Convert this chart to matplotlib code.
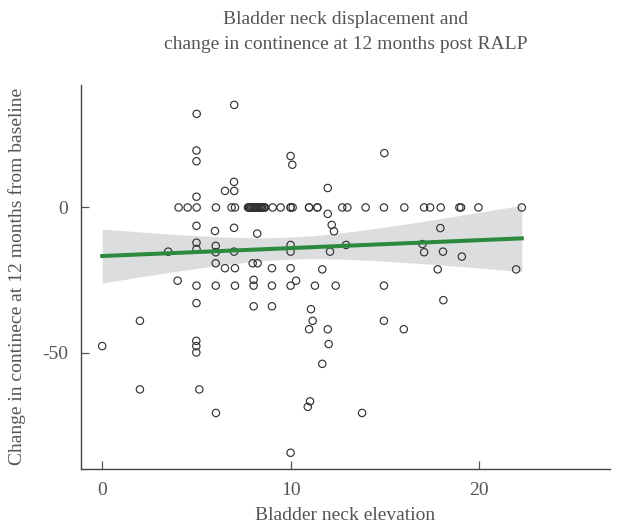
import numpy as np
import matplotlib
matplotlib.use('Agg')
import matplotlib.pyplot as plt

# bladder neck elevation (x) of patients with no change (y = 0);
# the packed cluster near x = 8 holds several overlapping circles
zero_x = [4.05, 4.53, 5.01, 6.03, 6.86, 7.04, 7.73, 7.84, 7.97, 8.10, 8.21, 8.34,
          8.47, 8.63, 9.04, 9.46, 9.99, 10.10, 10.97, 11.41, 12.73, 13.0, 13.97,
          14.94, 16.02, 17.07, 17.39, 17.95, 18.94, 19.03, 19.95, 22.25,
          7.78, 7.9, 8.03, 8.15, 8.27, 8.4, 8.55, 7.8, 8.0, 8.2, 8.4, 8.6,
          9.99, 10.97, 11.41]
# remaining points: bladder neck elevation / change in continence
other_x = [5.01, 7.0, 5.0, 5.0, 6.99, 6.51, 7.0, 5.0, 5.0, 5.98, 6.99, 8.22,
           9.99, 10.08, 14.96, 11.96, 11.96, 12.17, 12.29, 17.93,
           5.0, 5.0, 3.5, 6.02, 6.02, 6.99, 6.02, 6.51, 7.04, 7.98, 8.24, 9.0,
           4.0, 5.0, 6.02, 7.04, 8.03, 8.03, 9.0, 5.0, 8.03, 9.0, 2.0, 0.0,
           4.99, 4.99, 4.99, 2.0, 5.15, 6.03,
           9.99, 9.99, 12.08, 12.93, 16.98, 17.07, 18.07, 19.07, 9.99, 11.67,
           17.79, 21.95, 9.99, 10.28, 11.28, 12.38, 14.94, 11.07, 11.16, 10.97,
           11.96, 12.01, 11.67, 14.94, 15.99, 18.09, 11.02, 10.9, 13.78, 9.99]
other_y = [32.2, 35.3, 19.6, 15.9, 8.8, 5.7, 5.7, 3.7, -6.3, -8.1, -7.0, -9.0,
           17.7, 14.7, 18.7, 6.7, -2.2, -6.0, -8.2, -7.1,
           -12.1, -14.3, -15.2, -13.2, -15.4, -15.2, -19.2, -20.9, -20.9, -19.2,
           -19.2, -20.9, -25.2, -26.9, -26.9, -26.9, -24.9, -26.9, -26.9, -32.9,
           -34.0, -34.0, -39.0, -47.7, -45.9, -47.7, -49.9, -62.6, -62.6, -70.7,
           -12.9, -15.2, -15.2, -12.9, -12.6, -15.4, -15.2, -16.9, -20.9, -21.3,
           -21.3, -21.3, -26.9, -25.2, -26.9, -26.9, -26.9, -35.0, -39.0, -41.9,
           -41.9, -47.0, -53.8, -39.0, -41.9, -31.9, -66.7, -68.6, -70.7, -84.4]

x = np.array(zero_x + other_x)
y = np.array([0.0] * len(zero_x) + other_y)

# linear fit with 95% confidence band
n = len(x)
b, a = np.polyfit(x, y, 1)
xs = np.linspace(x.min(), x.max(), 100)
ys = a + b * xs
resid = y - (a + b * x)
s = np.sqrt(np.sum(resid ** 2) / (n - 2))
se = s * np.sqrt(1.0 / n + (xs - x.mean()) ** 2 / np.sum((x - x.mean()) ** 2))
t = 1.98

plt.rcParams['font.family'] = 'Liberation Serif'
txt = '#555555'

fig = plt.figure(figsize=(6.27, 5.30), dpi=100)
ax = fig.add_axes([0.129, 0.115, 0.844, 0.725])

ax.fill_between(xs, ys - t * se, ys + t * se, color='#dcddde', lw=0, zorder=1)
ax.scatter(x, y, s=28, facecolors='none', edgecolors='#333333', linewidths=0.85, zorder=2)
ax.plot(xs, ys, color='#2b8a3e', lw=2.9, zorder=3)

ax.set_xlim(-1.13, 26.93)
ax.set_ylim(-90.0, 42.2)
ax.set_xticks([0, 10, 20])
ax.set_yticks([0, -50])
ax.set_yticklabels(['0', '-50'])

for sp in ['top', 'right']:
    ax.spines[sp].set_visible(False)
for sp in ['left', 'bottom']:
    ax.spines[sp].set_color('#444444')
    ax.spines[sp].set_linewidth(1.0)
ax.tick_params(direction='in', length=6, width=0.9, color='#555555',
               labelsize=14, labelcolor=txt, pad=9)

ax.set_xlabel('Bladder neck elevation', fontsize=14, color=txt, labelpad=6)
ax.set_ylabel('Change in continece at 12 months from baseline', fontsize=14,
              color=txt, labelpad=12)
ax.set_title('Bladder neck displacement and\nchange in continence at 12 months post RALP',
             fontsize=14, color=txt, pad=26, linespacing=1.6)

fig.savefig('out.png', dpi=100)
